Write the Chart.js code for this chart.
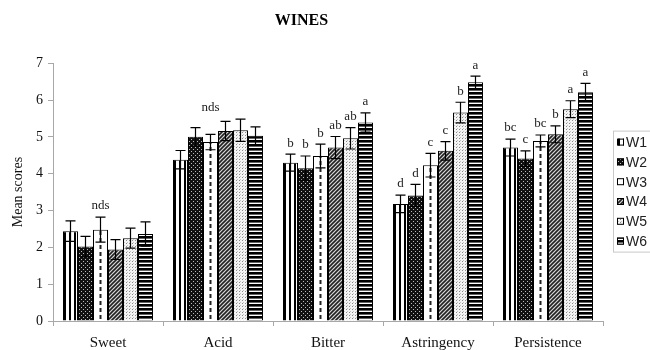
<!DOCTYPE html>
<html>
<head>
<meta charset="utf-8">
<script src="https://cdn.jsdelivr.net/npm/chart.js@4/dist/chart.umd.min.js"></script>
<style>
  html, body { margin: 0; padding: 0; background: #fff; }
  #wrap { width: 650px; height: 350px; }
</style>
</head>
<body>
<div id="wrap"><canvas id="c" width="650" height="350"></canvas></div>
<script>
// Sensory attributes on the x axis
const categories = ['Sweet', 'Acid', 'Bitter', 'Astringency', 'Persistence'];
const wineNames = ['W1', 'W2', 'W3', 'W4', 'W5', 'W6'];
const yTicks = [0, 1, 2, 3, 4, 5, 6, 7];

// Mean scores per wine
const w1 = [2.44, 4.38, 4.30, 3.18, 4.71];
const w2 = [2.02, 5.00, 4.15, 3.41, 4.41];
const w3 = [2.48, 4.86, 4.48, 4.23, 4.89];
const w4 = [1.94, 5.16, 4.71, 4.62, 5.07];
const w5 = [2.25, 5.18, 4.96, 5.66, 5.75];
const w6 = [2.36, 5.03, 5.39, 6.48, 6.21];

// Standard errors per wine
const e1 = [0.28, 0.25, 0.23, 0.24, 0.23];
const e2 = [0.28, 0.25, 0.33, 0.30, 0.21];
const e3 = [0.34, 0.21, 0.32, 0.32, 0.16];
const e4 = [0.27, 0.26, 0.30, 0.25, 0.23];
const e5 = [0.27, 0.30, 0.29, 0.28, 0.23];
const e6 = [0.33, 0.24, 0.26, 0.17, 0.24];

// Significance letters per wine, and group notes (no significant difference)
const l1 = ['', '', 'b', 'd', 'bc'];
const l2 = ['', '', 'b', 'd', 'c'];
const l3 = ['', '', 'b', 'c', 'bc'];
const l4 = ['', '', 'ab', 'c', 'b'];
const l5 = ['', '', 'ab', 'b', 'a'];
const l6 = ['', '', 'a', 'a', 'a'];
const groupNotes = ['nds', 'nds', '', '', ''];

const values = [w1, w2, w3, w4, w5, w6];
const errors = [e1, e2, e3, e4, e5, e6];
const letters = [l1, l2, l3, l4, l5, l6];
const patternKinds = ['vstripe', 'darkdots', 'dash', 'diag', 'lightdots', 'hstripe'];

const CAT_PCT = 90 / 110;
const SERIF = '"Liberation Serif", "Times New Roman", serif';

// ---- fill patterns ----
function tile(kind) {
  const c = document.createElement('canvas');
  let g;
  switch (kind) {
    case 'vstripe':
      c.width = 5; c.height = 1; g = c.getContext('2d');
      g.fillStyle = '#fff'; g.fillRect(0, 0, 5, 1);
      g.fillStyle = '#000'; g.fillRect(1, 0, 2, 1);
      break;
    case 'darkdots':
      c.width = 4; c.height = 4; g = c.getContext('2d');
      g.fillStyle = '#111'; g.fillRect(0, 0, 4, 4);
      g.fillStyle = '#bbb'; g.fillRect(1, 1, 1, 1); g.fillRect(3, 3, 1, 1);
      break;
    case 'dash':
      c.width = 15; c.height = 7; g = c.getContext('2d');
      g.fillStyle = '#fff'; g.fillRect(0, 0, 15, 7);
      g.fillStyle = '#222'; g.fillRect(6.5, 0, 2, 4);
      break;
    case 'diag':
      c.width = 4; c.height = 4; g = c.getContext('2d');
      g.fillStyle = '#d8d8d8'; g.fillRect(0, 0, 4, 4);
      g.strokeStyle = '#222'; g.lineWidth = 1.6;
      g.beginPath();
      g.moveTo(-1, 5); g.lineTo(5, -1);
      g.moveTo(-1, 1); g.lineTo(1, -1);
      g.moveTo(3, 5); g.lineTo(5, 3);
      g.stroke();
      break;
    case 'lightdots':
      c.width = 3; c.height = 3; g = c.getContext('2d');
      g.fillStyle = '#f4f4f4'; g.fillRect(0, 0, 3, 3);
      g.fillStyle = '#8a8a8a'; g.fillRect(0, 0, 1, 1);
      g.fillStyle = '#c4c4c4'; g.fillRect(1, 2, 1, 1);
      break;
    case 'hstripe':
    default:
      c.width = 1; c.height = 4; g = c.getContext('2d');
      g.fillStyle = '#fff'; g.fillRect(0, 0, 1, 4);
      g.fillStyle = '#000'; g.fillRect(0, 0, 1, 2.6);
      break;
  }
  return c;
}

const tiles = {};
const patternCache = {};
function patternFor(kind, offsetX) {
  const key = kind + '@' + Math.round(offsetX * 10);
  if (patternCache[key]) return patternCache[key];
  if (!tiles[kind]) tiles[kind] = tile(kind);
  const ctx = document.getElementById('c').getContext('2d');
  const p = ctx.createPattern(tiles[kind], 'repeat');
  if (p.setTransform && typeof DOMMatrix !== 'undefined') {
    p.setTransform(new DOMMatrix([1, 0, 0, 1, offsetX, 0]));
  }
  patternCache[key] = p;
  return p;
}

// Left edge of a bar, so each bar's pattern starts at its own edge
function barLeft(chart, dsIndex, index) {
  const xs = chart.scales && chart.scales.x;
  if (!xs || !xs.width) return 0;
  const cw = xs.width / categories.length;
  const gw = cw * CAT_PCT;
  return xs.getPixelForValue(index) - gw / 2 + dsIndex * gw / wineNames.length;
}

function scriptedFill(kind) {
  return (ctx) => {
    if (ctx.type !== 'data') return patternFor(kind, 0);
    return patternFor(kind, barLeft(ctx.chart, ctx.datasetIndex, ctx.dataIndex));
  };
}

// ---- plugins ----
const errorBars = {
  id: 'errorBars',
  afterDatasetsDraw(chart) {
    const ys = chart.scales.y;
    const g = chart.ctx;
    g.save();
    g.strokeStyle = '#000';
    g.lineWidth = 1.2;
    chart.data.datasets.forEach((ds, di) => {
      const meta = chart.getDatasetMeta(di);
      meta.data.forEach((bar, i) => {
        const v = ds.data[i], e = errors[di][i];
        const top = ys.getPixelForValue(v + e);
        const bot = ys.getPixelForValue(v - e);
        const x = bar.x;
        g.beginPath();
        g.moveTo(x, top); g.lineTo(x, bot);
        g.moveTo(x - 5, top); g.lineTo(x + 5, top);
        g.moveTo(x - 5, bot); g.lineTo(x + 5, bot);
        g.stroke();
      });
    });
    g.restore();
  }
};

const sigLetters = {
  id: 'sigLetters',
  afterDatasetsDraw(chart) {
    const ys = chart.scales.y;
    const g = chart.ctx;
    g.save();
    g.fillStyle = '#222';
    g.font = '13px ' + SERIF;
    g.textAlign = 'center';
    g.textBaseline = 'middle';
    chart.data.datasets.forEach((ds, di) => {
      const meta = chart.getDatasetMeta(di);
      meta.data.forEach((bar, i) => {
        const t = letters[di][i];
        if (!t) return;
        const top = ys.getPixelForValue(ds.data[i] + errors[di][i]);
        g.fillText(t, bar.x, top - 11);
      });
    });
    // group notes sit above the tallest whisker, over the middle bar
    groupNotes.forEach((t, i) => {
      if (!t) return;
      let maxTop = -Infinity;
      values.forEach((arr, di) => { maxTop = Math.max(maxTop, arr[i] + errors[di][i]); });
      const bar = chart.getDatasetMeta(2).data[i];
      g.fillText(t, bar.x, ys.getPixelForValue(maxTop) - 12);
    });
    g.restore();
  }
};

const boxedLegend = {
  id: 'boxedLegend',
  afterDraw(chart) {
    const g = chart.ctx;
    const area = chart.chartArea;
    const step = 19.8;
    const n = chart.data.datasets.length;
    const cy = (area.top + area.bottom) / 2;
    const first = cy - step * (n - 1) / 2;
    const x0 = area.right + 10;
    g.save();
    g.strokeStyle = '#c8c8c8';
    g.lineWidth = 1;
    g.strokeRect(x0 + 0.5, first - 11.5, 60, step * (n - 1) + 22);
    g.font = '14px "Liberation Sans", Arial, sans-serif';
    g.textBaseline = 'middle';
    g.textAlign = 'left';
    chart.data.datasets.forEach((ds, i) => {
      const y = first + i * step;
      g.fillStyle = patternFor(patternKinds[i], x0 + 4);
      g.fillRect(x0 + 4, y - 4, 7, 7);
      g.strokeStyle = '#000';
      g.strokeRect(x0 + 4.5, y - 3.5, 6, 6);
      g.fillStyle = '#222';
      g.fillText(ds.label, x0 + 13, y + 0.5);
    });
    g.restore();
  }
};

// ---- chart ----
const datasets = wineNames.map((name, i) => ({
  label: name,
  data: values[i],
  backgroundColor: scriptedFill(patternKinds[i]),
  borderColor: '#000',
  borderWidth: 1,
  categoryPercentage: CAT_PCT,
  barPercentage: 1.0
}));

new Chart(document.getElementById('c'), {
  type: 'bar',
  data: { labels: categories, datasets },
  plugins: [errorBars, sigLetters, boxedLegend],
  options: {
    responsive: false,
    animation: false,
    devicePixelRatio: 1,
    layout: { padding: { left: 0, right: 47, top: 0, bottom: 0 } },
    plugins: {
      legend: { display: false },
      tooltip: { enabled: false },
      title: {
        display: true,
        text: 'WINES',
        color: '#000',
        font: { family: SERIF, size: 16, weight: 'bold' },
        padding: { top: 11, bottom: 33 }
      }
    },
    scales: {
      x: {
        afterFit(s) { s.height = 29; },
        grid: {
          display: true, drawOnChartArea: false, drawTicks: true,
          tickLength: 5, color: '#a8a8a8', offset: true
        },
        border: { display: true, color: '#a8a8a8', width: 1 },
        ticks: { color: '#111', padding: 8, font: { family: SERIF, size: 15 } }
      },
      y: {
        min: 0,
        max: yTicks[yTicks.length - 1],
        afterFit(s) { s.width = 53; },
        afterBuildTicks(s) { s.ticks = yTicks.map(v => ({ value: v })); },
        grid: {
          display: true, drawOnChartArea: false, drawTicks: true,
          tickLength: 5, color: '#a8a8a8'
        },
        border: { display: true, color: '#a8a8a8', width: 1 },
        ticks: { color: '#111', padding: 5, font: { family: SERIF, size: 14 } },
        title: {
          display: true,
          text: 'Mean scores',
          color: '#111',
          font: { family: SERIF, size: 14 },
          padding: { top: 10, bottom: 0 }
        }
      }
    }
  }
});
</script>
</body>
</html>
